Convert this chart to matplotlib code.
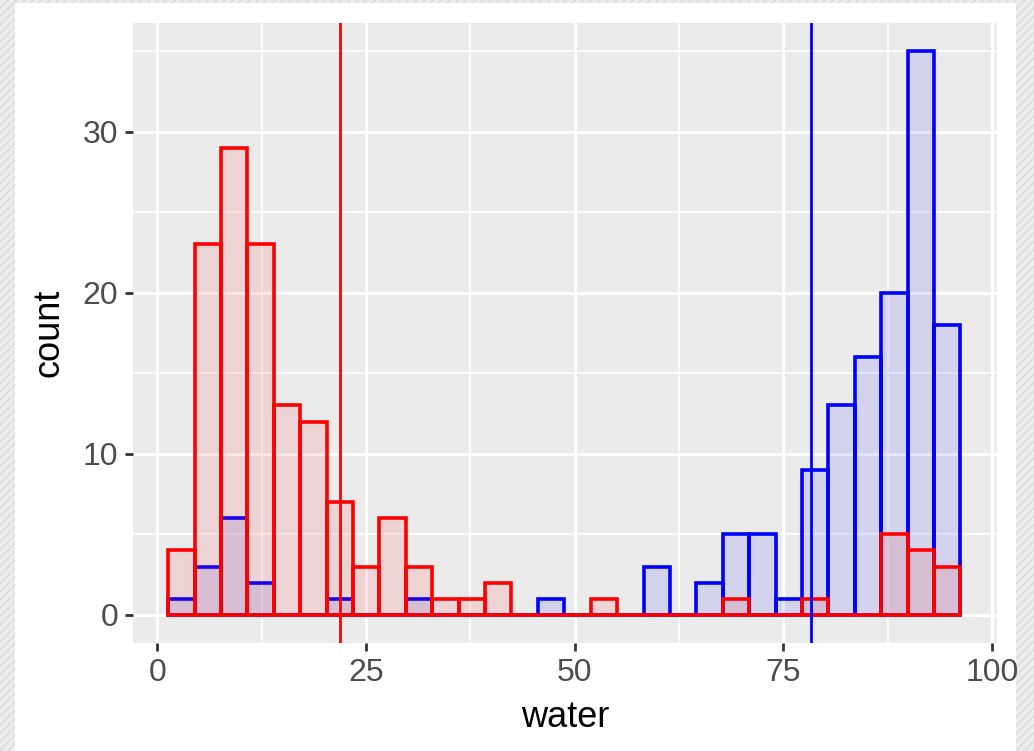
import numpy as np
import matplotlib
matplotlib.use("Agg")
import matplotlib.pyplot as plt
from matplotlib.patches import Rectangle

# Histogram bins (30 equal-width bins) and counts per group
bin_start = 1.32
bin_width = 3.163
n_bins = 30
blue_counts = [1, 3, 6, 2, 0, 0, 1, 0, 0, 1, 0, 0, 0, 0, 1,
               0, 0, 0, 3, 0, 2, 5, 5, 1, 9, 13, 16, 20, 35, 18]
red_counts = [4, 23, 29, 23, 13, 12, 7, 3, 6, 3, 1, 1, 2, 0, 0,
              0, 1, 0, 0, 0, 0, 1, 0, 0, 1, 0, 0, 5, 4, 3]
# Group means shown as vertical lines
red_mean = 21.85
blue_mean = 78.35

x_ticks = [0, 25, 50, 75, 100]
y_ticks = [0, 10, 20, 30]

plt.rcParams['font.family'] = ['Liberation Sans', 'DejaVu Sans']

fig = plt.figure(figsize=(10.34, 7.51), dpi=100)
fig.patch.set_facecolor('#e9e9e9')
# textured frame around a white sheet
frame = Rectangle((0, 0), 1, 1, transform=fig.transFigure, facecolor='#ececec',
                  edgecolor='#dadada', hatch='////', linewidth=0, zorder=-3)
fig.patches.append(frame)
sheet = Rectangle((15 / 1034, 0), (1016 - 15) / 1034, 1 - 3 / 751,
                  transform=fig.transFigure, facecolor='white', edgecolor='none', zorder=-2)
fig.patches.append(sheet)

ax = fig.add_axes([133 / 1034, 1 - 643 / 751, (997 - 133) / 1034, (643 - 23) / 751])
ax.set_facecolor('#EBEBEB')
for s in ax.spines.values():
    s.set_visible(False)

edges = bin_start + bin_width * np.arange(n_bins + 1)
lefts = edges[:-1]

ax.bar(lefts, blue_counts, width=bin_width, align='edge',
       facecolor=(0, 0, 1, 0.1), edgecolor='#0000FF', linewidth=2.6, zorder=3)
ax.bar(lefts, red_counts, width=bin_width, align='edge',
       facecolor=(1, 0, 0, 0.1), edgecolor='#FF0000', linewidth=2.6, zorder=4)

ax.axvline(red_mean, color='#FF0000', linewidth=2.0, zorder=5)
ax.axvline(blue_mean, color='#0000FF', linewidth=2.0, zorder=5)

ax.set_xlim(-2.9, 100.6)
ax.set_ylim(-1.75, 36.75)
ax.set_xticks(x_ticks)
ax.set_yticks(y_ticks)
ax.set_xticks([12.5, 37.5, 62.5, 87.5], minor=True)
ax.set_yticks([5, 15, 25, 35], minor=True)

ax.grid(which='major', color='white', linewidth=2.2, zorder=0)
ax.grid(which='minor', color='white', linewidth=1.1, zorder=0)
ax.set_axisbelow(True)

ax.tick_params(which='major', length=5.5, width=2.0, color='#333333',
               labelsize=23, labelcolor='#4D4D4D', pad=5)
ax.tick_params(which='minor', length=0)

ax.set_xlabel('water', fontsize=26, color='black', labelpad=9)
ax.set_ylabel('count', fontsize=26, color='black', labelpad=12)

fig.savefig('out.png', dpi=100)
